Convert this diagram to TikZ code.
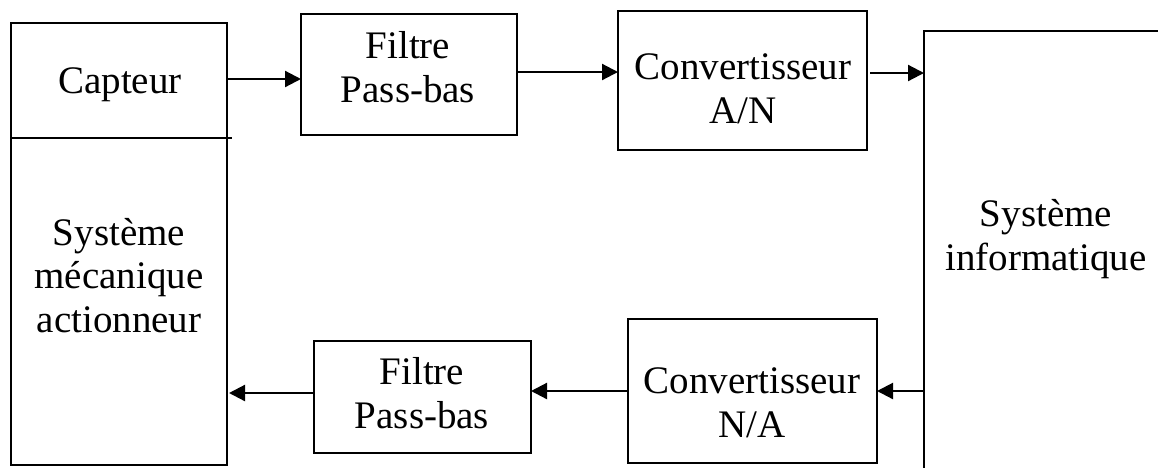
\documentclass[tikz,border=0pt]{standalone}
\usepackage{fontspec}
\setmainfont{Liberation Serif}
\usetikzlibrary{arrows.meta,calc}
\begin{document}
\begin{tikzpicture}[x=1pt,y=-1pt,
  box/.style={draw,line width=2.6pt,inner sep=0pt,outer sep=0pt,rectangle},
  lbl/.style={inner sep=0pt,align=center,font=\fontsize{39}{43.5}\selectfont},
  arr/.style={line width=2.2pt,-{Triangle[length=16pt,width=16pt]}}]
\useasboundingbox (0,0) rectangle (1158,467);
% boxes
\node[box,minimum width=216pt,minimum height=442pt] (lb) at (119,244) {};
\node[box,minimum width=216pt,minimum height=121pt] (f1) at (409,74.5) {};
\node[box,minimum width=249pt,minimum height=139pt] (c1) at (742.5,80.5) {};
\node[box,minimum width=300pt,minimum height=480pt,anchor=north west] (rb) at (924,31) {};
\node[box,minimum width=249pt,minimum height=144pt] (c2) at (752.5,391) {};
\node[box,minimum width=217pt,minimum height=112pt] (f2) at (422.5,397) {};
% divider in left box
\coordinate (divend) at (232,138);
\draw[line width=2.6pt] (lb.west |- divend) -- (divend);
% labels (anchor = baseline of last line)
\node[lbl,anchor=base] (tcap) at (120,93) {Capteur};
\node[lbl,anchor=base] (tmec) at (119,332) {Système\\mécanique\\actionneur};
\node[lbl,anchor=base] (tf1) at (408,102) {Filtre\\Pass-bas};
\node[lbl,anchor=base] (tc1) at (743,123) {Convertisseur\\A/N};
\node[lbl,anchor=base] (tinf) at (1046,270) {Système\\informatique};
\node[lbl,anchor=base] (tf2) at (422,428) {Filtre\\Pass-bas};
\node[lbl,anchor=base] (tc2) at (752,437) {Convertisseur\\N/A};
% arrows
\draw[arr] (lb.east |- 0,79) -- (f1.west |- 0,79);
\draw[arr] (f1.east |- 0,72) -- (c1.west |- 0,72);
\draw[arr,shorten <=3pt] (c1.east |- 0,73) -- (rb.west |- 0,73);
\draw[arr] (rb.west |- 0,391) -- (c2.east |- 0,391);
\draw[arr] (c2.west |- 0,391) -- (f2.east |- 0,391);
\draw[arr,shorten >=2pt] (f2.west |- 0,393) -- (lb.east |- 0,393);
\end{tikzpicture}
\end{document}
